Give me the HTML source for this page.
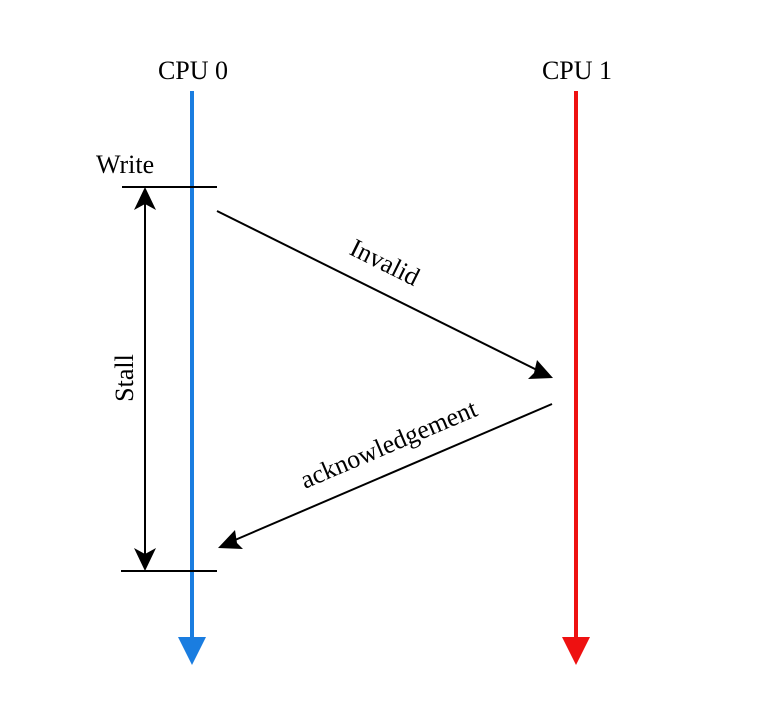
<!DOCTYPE html>
<html><head><style>body{margin:0;background:#fff}</style></head><body>
<svg width="768" height="703" viewBox="0 0 768 703" xmlns="http://www.w3.org/2000/svg" font-family="'Liberation Serif', serif" font-size="26" fill="#000">
<rect width="768" height="703" fill="#fff"/>
<text x="193" y="79" text-anchor="middle">CPU 0</text>
<text x="577" y="79" text-anchor="middle">CPU 1</text>
<line x1="192" y1="91" x2="192" y2="645" stroke="#1a7de0" stroke-width="4"/>
<polygon points="178,637 206,637 192,665" fill="#1a7de0"/>
<line x1="576" y1="91" x2="576" y2="645" stroke="#ee1111" stroke-width="4"/>
<polygon points="562,637 590,637 576,665" fill="#ee1111"/>
<text x="96" y="173">Write</text>
<line x1="122" y1="187" x2="217" y2="187" stroke="#000" stroke-width="2"/>
<line x1="121" y1="571" x2="217" y2="571" stroke="#000" stroke-width="2"/>
<line x1="145" y1="200" x2="145" y2="558" stroke="#000" stroke-width="2"/>
<polygon points="145,187 134,210 145,204 156,210"/>
<polygon points="145,571 134,548 145,554 156,548"/>
<text transform="translate(133,378) rotate(-90)" text-anchor="middle">Stall</text>
<line x1="217" y1="211" x2="543" y2="373" stroke="#000" stroke-width="2"/>
<polygon points="553,378 528,379 534,373 537,360"/>
<text transform="translate(381,270) rotate(26.5)" text-anchor="middle">Invalid</text>
<line x1="552" y1="404" x2="228" y2="543" stroke="#000" stroke-width="2"/>
<polygon points="218,548 243,549 237,543 235,530"/>
<text transform="translate(392,452) rotate(-23)" text-anchor="middle">acknowledgement</text>
</svg>
</body></html>
